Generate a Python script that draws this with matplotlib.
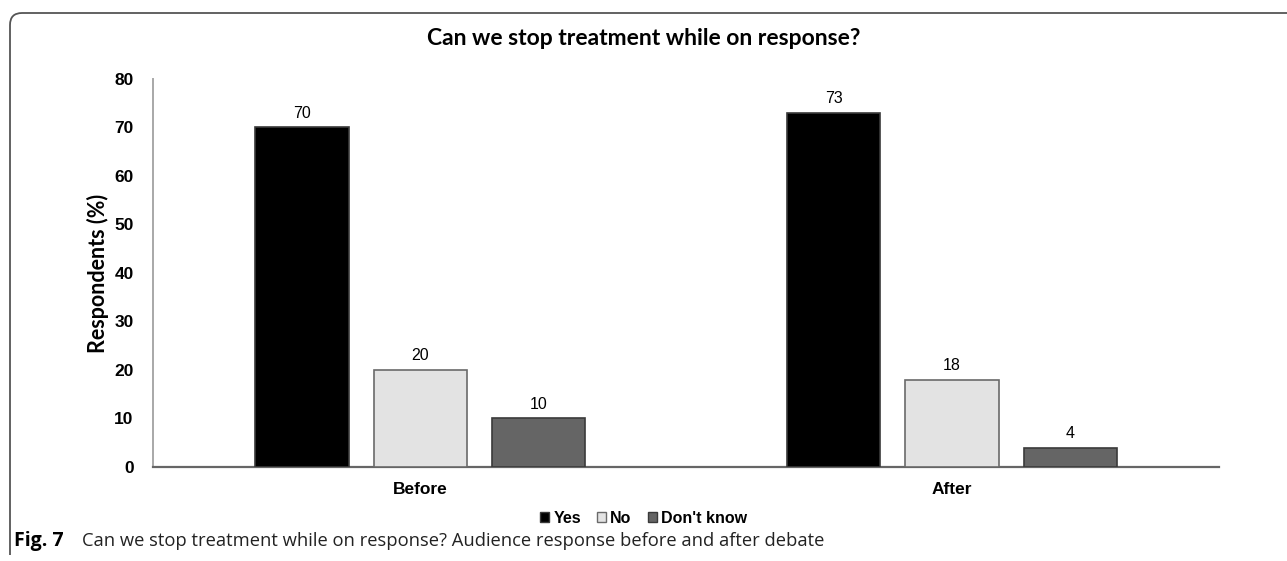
import numpy as np
import matplotlib.pyplot as plt
from matplotlib.path import Path
from matplotlib.patches import PathPatch, Patch

# Survey results (% of respondents)
groups = ['Before', 'After']
answers = ['Yes', 'No', "Don't know"]
yes_pct = [70, 73]
no_pct = [20, 18]
dontknow_pct = [10, 4]

bar_colors = ['#000000', '#e3e3e3', '#656565']
edge_colors = ['#3a3a3a', '#6a6a6a', '#3a3a3a']

fig = plt.figure(figsize=(12.87, 5.61), dpi=100)
ax = fig.add_axes([0.1189, 0.1676, 0.8283, 0.6916])

x = np.arange(len(groups))
width = 0.175
step = 0.222
series = [yes_pct, no_pct, dontknow_pct]
for i, vals in enumerate(series):
    pos = x + (i - 1) * step
    bars = ax.bar(pos, vals, width, color=bar_colors[i], edgecolor=edge_colors[i],
                  linewidth=1.2, label=answers[i], zorder=3)
    ax.bar_label(bars, labels=[str(v) for v in vals], padding=5,
                 fontsize=11.5, family='Liberation Sans')

ax.set_xlim(-0.502, 1.502)
ax.set_ylim(0, 80)
ax.set_yticks(range(0, 81, 10))
ax.set_xticks(x)
ax.set_xticklabels(groups, fontsize=12.5, fontweight='bold', family='Liberation Sans')
for lab in ax.get_yticklabels():
    lab.set_fontsize(12.5)
    lab.set_fontweight('bold')
    lab.set_family('Liberation Sans')
ax.tick_params(axis='y', length=0, pad=14)
ax.tick_params(axis='x', length=0, pad=11)

for s in ['top', 'right']:
    ax.spines[s].set_visible(False)
ax.spines['left'].set_color('#a8a8a8')
ax.spines['left'].set_linewidth(1.4)
ax.spines['bottom'].set_color('#666666')
ax.spines['bottom'].set_linewidth(1.6)

ax.set_ylabel('Respondents (%)', fontsize=15.5, fontweight='bold', family='Lato',
              labelpad=4)

fig.text(0.5, 0.932, 'Can we stop treatment while on response?', ha='center',
         va='center', fontsize=16.5, fontweight='bold', family='Lato')

# legend below the axis
handles = [Patch(facecolor=bar_colors[i], edgecolor=edge_colors[i], linewidth=1)
           for i in range(3)]
fig.legend(handles, answers, loc='center', bbox_to_anchor=(0.5, 0.076), ncol=3,
           frameon=False, handlelength=0.6, handleheight=0.6, handletextpad=0.25,
           columnspacing=1.0, prop={'family': 'Liberation Sans', 'weight': 'bold',
                                    'size': 11.5})

# caption
fig.text(0.011, 0.035, 'Fig. 7', fontsize=14, fontweight='bold', family='Open Sans',
         va='center', ha='left')
fig.text(0.0637, 0.035, 'Can we stop treatment while on response? Audience response before and after debate',
         fontsize=13.2, family='Open Sans', va='center', ha='left', color='#222222')

# rounded frame on the left and top edges
W, H = 1287, 561
r = 12
verts = [(10 / W, 1 - 555 / H), (10 / W, 1 - (13 + r) / H), (10 / W, 1 - 13 / H),
         ((10 + r) / W, 1 - 13 / H), (1.0, 1 - 13 / H)]
codes = [Path.MOVETO, Path.LINETO, Path.CURVE3, Path.CURVE3, Path.LINETO]
fig.patches.append(PathPatch(Path(verts, codes), transform=fig.transFigure,
                             facecolor='none', edgecolor='#555555', linewidth=1.3))

fig.savefig('out.png', dpi=100)
